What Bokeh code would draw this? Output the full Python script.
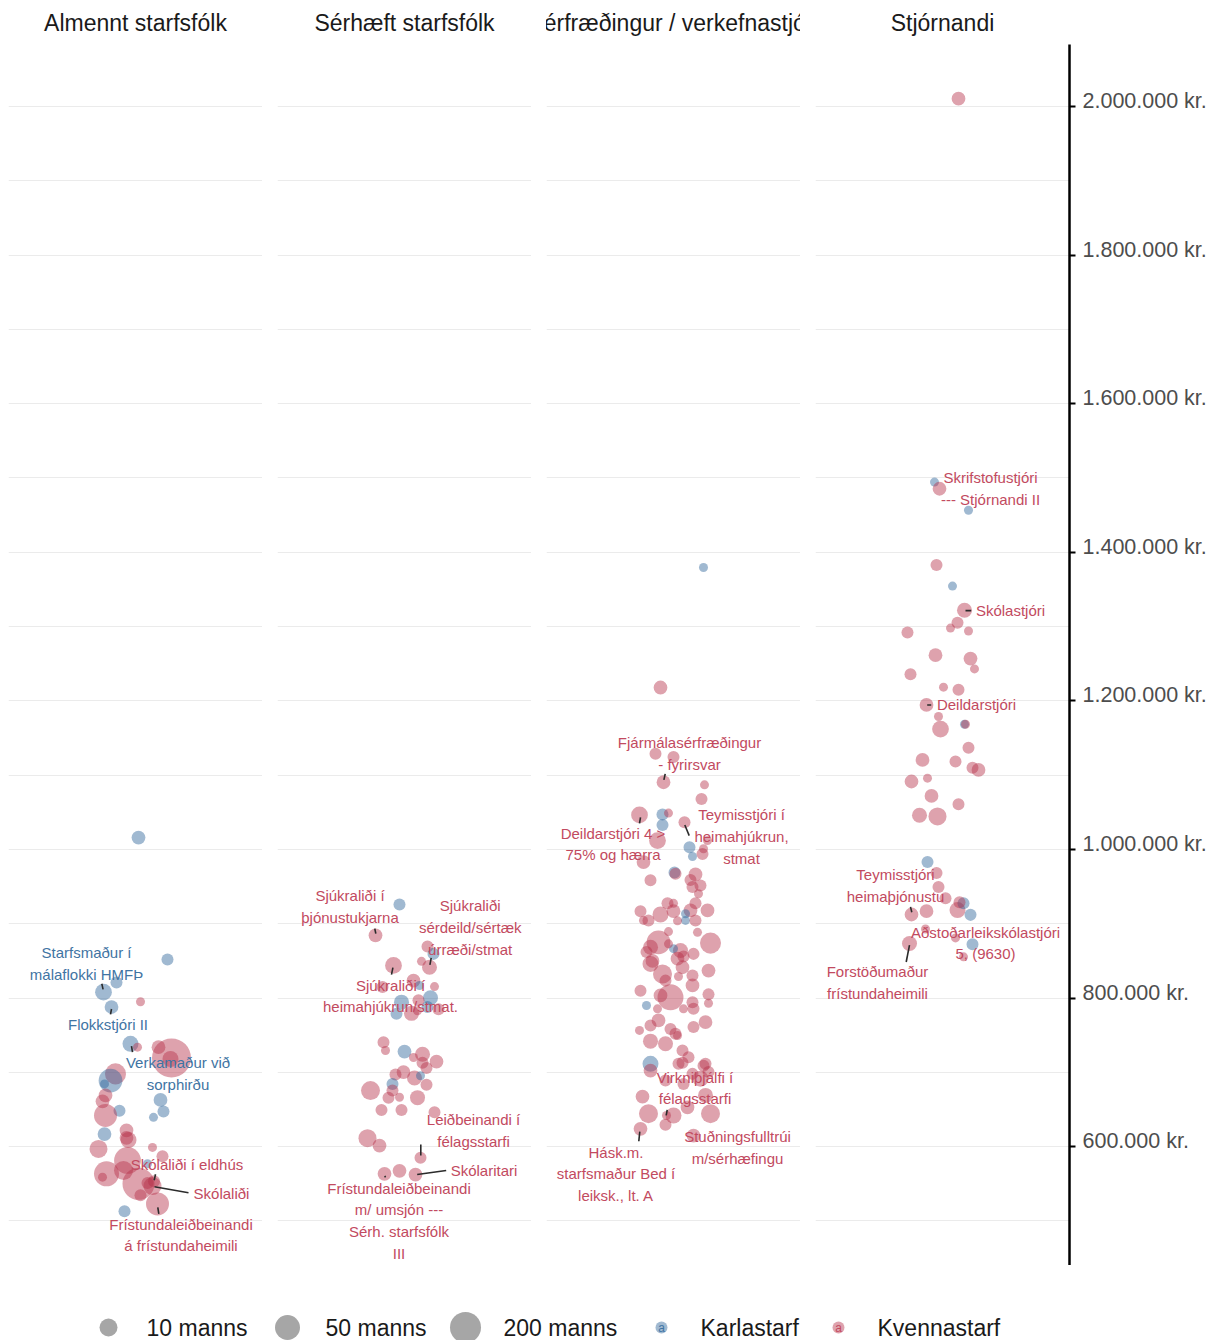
import numpy as np
from bokeh.plotting import figure
from bokeh.layouts import row, column
from bokeh.models import ColumnDataSource, FixedTicker, Range1d
from bokeh.embed import file_html
from bokeh.resources import INLINE
from bokeh.core.properties import value

FONT = "Liberation Sans"

# ---------------------------------------------------------------- data
PANEL_TITLES = ["Almennt starfsfólk", "Sérhæft starfsfólk",
                "Sérfræðingur / verkefnastjóri", "Stjórnandi"]

GRID_TICKS = [500000, 600000, 700000, 800000, 900000, 1000000, 1100000, 1200000,
              1300000, 1400000, 1500000, 1600000, 1700000, 1800000, 1900000, 2000000]
AXIS_TICKS = [600000, 800000, 1000000, 1200000, 1400000, 1600000, 1800000, 2000000]
AXIS_LABELS = ["600.000 kr.", "800.000 kr.", "1.000.000 kr.", "1.200.000 kr.",
               "1.400.000 kr.", "1.600.000 kr.", "1.800.000 kr.", "2.000.000 kr."]

# group: "K" = Karlastarf, "Kv" = Kvennastarf
p1_salary = [1016000, 852000, 821000, 808000, 795000, 788000, 738500, 734000, 734000, 719500,
             718000, 698000, 689000, 684500, 663000, 647500, 639500, 648500, 669000, 661000,
             642000, 617000, 622000, 609000, 612000, 597000, 599000, 587000, 581500, 568000,
             563500, 559000, 550000, 547000, 553500, 523000, 534500, 513000, 577000, 551000]
p1_jitter = [0.03, 0.32, -0.19, -0.32, 0.05, -0.24, -0.05, 0.02, 0.23, 0.36,
             0.35, -0.20, -0.25, -0.31, 0.25, 0.28, 0.18, -0.16, -0.30, -0.33,
             -0.30, -0.31, -0.09, -0.07, -0.09, -0.37, 0.17, 0.27, -0.08, -0.12,
             -0.29, -0.33, 0.03, 0.17, 0.185, 0.22, 0.05, -0.11, 0.12, 0.12]
p1_count = [3, 2, 2, 6, 1, 3, 5, 1, 3, 1000,
            5, 16, 30, 1, 3, 2, 1, 2, 3, 3,
            25, 3, 3, 5, 3, 8, 1, 2, 60, 10,
            40, 1, 200, 8, 2, 25, 2, 2, 1, 2]
p1_group = ["K", "K", "K", "K", "Kv", "K", "K", "Kv", "Kv", "Kv",
            "Kv", "Kv", "K", "K", "K", "K", "K", "K", "Kv", "Kv",
            "Kv", "K", "Kv", "Kv", "Kv", "Kv", "Kv", "Kv", "Kv", "Kv",
            "Kv", "Kv", "Kv", "Kv", "Kv", "Kv", "Kv", "K", "K", "Kv"]

p2_salary = [926000, 884500, 869500, 859500, 841500, 849500, 844000, 823500, 817000, 815500,
             815000, 794500, 800500, 797000, 779500, 783000, 779000, 788000, 785000, 740500,
             729500, 728000, 724500, 720000, 714500, 713000, 706000, 700500, 697000, 692500,
             695500, 684500, 683500, 675500, 675500, 666000, 666500, 666000, 649500, 649500,
             646500, 611500, 601500, 585000, 563500, 567500, 562500]
p2_jitter = [-0.05, -0.29, 0.23, 0.29, 0.25, 0.17, -0.11, 0.09, 0.15, 0.30,
             -0.22, -0.03, 0.26, 0.14, 0.07, 0.13, -0.08, 0.23, 0.34, -0.21,
             -0.19, 0.00, 0.18, 0.09, 0.32, 0.18, 0.22, -0.01, -0.09, 0.10,
             0.16, -0.12, 0.22, -0.34, -0.12, -0.16, -0.05, 0.13, -0.23, -0.03,
             0.30, -0.37, -0.25, 0.16, -0.20, -0.05, 0.11]
p2_count = [2, 3, 2, 2, 4, 1, 6, 3, 1, 1,
            2, 4, 4, 2, 4, 1, 2, 2, 2, 2,
            1, 3, 4, 1, 3, 2, 2, 3, 2, 4,
            1, 2, 2, 10, 2, 2, 1, 4, 2, 2,
            2, 8, 3, 2, 3, 3, 3]
p2_group = ["K", "Kv", "Kv", "K", "Kv", "Kv", "Kv", "Kv", "K", "Kv",
            "Kv", "K", "K", "Kv", "Kv", "Kv", "K", "K", "Kv", "Kv",
            "Kv", "K", "Kv", "Kv", "Kv", "Kv", "Kv", "Kv", "Kv", "Kv",
            "K", "K", "Kv", "Kv", "Kv", "Kv", "Kv", "Kv", "Kv", "Kv",
            "Kv", "Kv", "Kv", "Kv", "Kv", "Kv", "Kv"]

p3_salary = [1379500, 1218000, 1129000, 1124500, 1090500, 1087000, 1068000, 1046500, 1047000, 1049000,
             1033000, 1036500, 1012000, 1003000, 1012000, 1001000, 994000, 990500, 983000, 969000,
             967500, 966500, 958500, 959000, 951500, 949500, 940500, 927500, 927500, 927500,
             917000, 912500, 917000, 918000, 918000, 913500, 904500, 904500, 904500, 904500,
             889500, 888500, 875000, 874000, 868500, 864000, 866500, 873000, 862000, 859500,
             846000, 853000, 837000, 832500, 841500, 830500, 829000, 823500, 810000, 801000,
             817000, 803500, 805000, 794500, 793000, 790000, 785500, 785500, 785500, 770000,
             767500, 763000, 758500, 761000, 752000, 756500, 742000, 738500, 749500, 729500,
             720500, 711500, 711500, 711500, 702500, 691500, 700500, 689000, 698000, 667500,
             669000, 684500, 653000, 644500, 644500, 642000, 642000, 629500, 624000, 615000,
             713000, 709000, 904000, 856000, 850000]
p3_jitter = [0.30, -0.13, -0.18, 0.00, -0.10, 0.31, 0.28, -0.34, -0.11, -0.05,
             -0.11, 0.11, -0.16, 0.16, 0.34, 0.30, 0.29, 0.19, -0.30, 0.01,
             0.02, 0.22, -0.23, 0.17, 0.27, 0.19, 0.25, -0.06, 0.00, 0.22,
             -0.33, -0.13, 0.00, 0.17, 0.34, 0.12, 0.12, 0.22, -0.30, -0.25,
             -0.05, 0.24, -0.15, 0.37, -0.23, 0.07, 0.00, -0.05, -0.27, 0.20,
             -0.23, 0.04, 0.35, -0.11, 0.09, 0.19, 0.05, -0.08, -0.33, -0.03,
             0.19, -0.13, 0.35, 0.19, 0.35, -0.27, -0.16, 0.10, 0.20, -0.15,
             0.32, -0.23, -0.03, 0.20, 0.02, -0.34, -0.23, -0.08, 0.04, 0.09,
             0.15, 0.05, 0.32, -0.23, -0.23, 0.27, 0.35, -0.08, 0.19, -0.31,
             0.32, 0.10, 0.14, -0.25, 0.37, 0.00, -0.07, -0.08, -0.33, 0.20,
             0.09, 0.30, 0.04, 0.10, -0.21]
p3_count = [1, 3, 2, 2, 3, 1, 2, 6, 2, 1,
            2, 2, 6, 2, 1, 1, 2, 1, 3, 2,
            2, 3, 2, 2, 2, 2, 1, 2, 1, 2,
            2, 5, 3, 3, 3, 1, 1, 2, 1, 2,
            1, 1, 30, 16, 4, 4, 1, 1, 2, 2,
            5, 3, 3, 10, 3, 2, 1, 2, 2, 50,
            3, 3, 2, 2, 1, 1, 1, 1, 2, 3,
            3, 2, 2, 2, 2, 1, 4, 4, 1, 2,
            2, 2, 2, 5, 3, 5, 2, 2, 2, 3,
            4, 2, 3, 10, 10, 5, 1, 2, 3, 3,
            2, 2, 1, 2, 3]
p3_group = ["K", "Kv", "Kv", "Kv", "Kv", "Kv", "Kv", "Kv", "K", "Kv",
            "K", "Kv", "Kv", "K", "Kv", "Kv", "Kv", "K", "Kv", "K",
            "Kv", "Kv", "Kv", "Kv", "Kv", "Kv", "Kv", "Kv", "Kv", "Kv",
            "Kv", "Kv", "Kv", "Kv", "Kv", "K", "K", "Kv", "Kv", "Kv",
            "Kv", "Kv", "Kv", "Kv", "Kv", "Kv", "K", "Kv", "Kv", "Kv",
            "Kv", "Kv", "Kv", "Kv", "Kv", "Kv", "Kv", "Kv", "Kv", "Kv",
            "Kv", "Kv", "Kv", "Kv", "Kv", "K", "Kv", "Kv", "Kv", "Kv",
            "Kv", "Kv", "Kv", "Kv", "Kv", "Kv", "Kv", "Kv", "Kv", "Kv",
            "Kv", "Kv", "Kv", "K", "Kv", "Kv", "Kv", "Kv", "Kv", "Kv",
            "Kv", "Kv", "Kv", "Kv", "Kv", "Kv", "Kv", "Kv", "Kv", "Kv",
            "Kv", "Kv", "Kv", "Kv", "Kv"]

p4_salary = [2010500, 1494500, 1485500, 1456500, 1383000, 1354500, 1322000, 1305000, 1298000, 1294000,
             1292000, 1261500, 1257000, 1243000, 1236000, 1218500, 1215000, 1194500, 1179000, 1168500,
             1168500, 1162000, 1137000, 1120500, 1118500, 1110000, 1107000, 1091500, 1096000, 1072000,
             1061000, 1046000, 1044500, 983000, 968500, 949500, 934500, 918500, 927500, 929000,
             912500, 917000, 912000, 893000, 881000, 872500, 873500, 855500]
p4_jitter = [0.16, -0.08, -0.03, 0.26, -0.06, 0.10, 0.22, 0.15, 0.08, 0.26,
             -0.35, -0.07, 0.28, 0.32, -0.32, 0.01, 0.16, -0.16, -0.04, 0.22,
             0.23, -0.02, 0.26, -0.20, 0.13, 0.30, 0.36, -0.31, -0.15, -0.11,
             0.16, -0.23, -0.05, -0.15, -0.06, -0.04, 0.03, 0.15, 0.21, 0.17,
             -0.31, -0.16, 0.28, -0.17, 0.13, 0.30, -0.33, 0.21]
p4_count = [3, 1, 3, 1, 2, 1, 4, 2, 1, 1,
            2, 3, 3, 1, 2, 1, 2, 3, 1, 1,
            1, 6, 2, 3, 2, 2, 3, 3, 1, 3,
            2, 4, 8, 2, 2, 2, 2, 5, 2, 2,
            3, 3, 2, 1, 1, 2, 4, 1]
p4_group = ["Kv", "K", "Kv", "K", "Kv", "K", "Kv", "Kv", "Kv", "Kv",
            "Kv", "Kv", "Kv", "Kv", "Kv", "Kv", "Kv", "Kv", "Kv", "K",
            "Kv", "Kv", "Kv", "Kv", "Kv", "Kv", "Kv", "Kv", "Kv", "Kv",
            "Kv", "Kv", "Kv", "K", "Kv", "Kv", "Kv", "Kv", "K", "Kv",
            "Kv", "Kv", "K", "Kv", "Kv", "K", "Kv", "Kv"]

PANELS = [
    (p1_salary, p1_jitter, p1_count, p1_group),
    (p2_salary, p2_jitter, p2_count, p2_group),
    (p3_salary, p3_jitter, p3_count, p3_group),
    (p4_salary, p4_jitter, p4_count, p4_group),
]

# labelled jobs: (panel, point index, text, label offset px (dx, dy), leader segment px or None)
ANNOTATIONS = [
    (0, 3, "Starfsmaður í\nmálaflokki HMFÞ", -17, -29, (-1.7, -8.4, -0.4, -2.7)),
    (0, 5, "Flokkstjóri II", -3.5, 17, (0, 2, -1, 7.3)),
    (0, 6, "Verkamaður við\nsorphirðu", 47.5, 30, (1, 2.4, 2, 8.4)),
    (0, 34, "Skólaliði í eldhús", 33, -17, (1.5, -7, 0.2, -1)),
    (0, 33, "Skólaliði", 69, 7, (2, 0.7, 36, 6.7)),
    (0, 35, "Frístundaleiðbeinandi\ná frístundaheimili", 23.5, 31, (0.3, 3.4, 1.3, 10)),
    (1, 1, "Sjúkraliði í\nþjónustukjarna", -25.5, -29, (-0.7, -6.7, 0.3, -1.7)),
    (1, 4, "Sjúkraliði\nsérdeild/sértæk\núrræði/stmat", 40.7, -40, (1.7, -9.4, 0.4, -2.4)),
    (1, 6, "Sjúkraliði í\nheimahjúkrun/stmat.", -3, 30.5, (-0.6, 2.3, -2, 9.3)),
    (1, 43, "Leiðbeinandi í\nfélagsstarfi", 53, -27, (0.3, -13.3, 0.3, -2.3)),
    (1, 46, "Skólaritari", 68.5, -4, (1.7, 0, 30.7, -4)),
    (1, 44, "Frístundaleiðbeinandi\nm/ umsjón ---\nSérh. starfsfólk\nIII", 14.5, 47, (0.3, 2, 1, 3.5)),
    (2, 4, "Fjármálasérfræðingur\n- fyrirsvar", 26, -29, (1.7, -8.4, 0.4, -2.4)),
    (2, 7, "Deildarstjóri 4 >\n75% og hærra", -26.5, 29, (1, 2.4, 0, 8.4)),
    (2, 11, "Teymisstjóri í\nheimahjúkrun,\nstmat", 57, 14.3, (0.3, 2.6, 4.7, 13.3)),
    (2, 96, "Virkniþjálfi í\nfélagsstarfi", 28.5, -27.5, (0.7, -5.7, -0.3, 0)),
    (2, 98, "Hásk.m.\nstarfsmaður Bed í\nleiksk., lt. A", -24.5, 45, (-0.7, 2.7, -1.7, 12.4)),
    (2, 99, "Stuðningsfulltrúi\nm/sérhæfingu", 44, 12, None),
    (3, 2, "Skrifstofustjóri\n--- Stjórnandi II", 51, 0, None),
    (3, 6, "Skólastjóri", 46, 0, (1, 0.4, 6.7, 0.4)),
    (3, 17, "Deildarstjóri", 50, 0, (0.7, 0, 4.7, 0)),
    (3, 40, "Teymisstjóri\nheimaþjónustu", -16, -29, (-1, -7.6, 0.3, -2.2)),
    (3, 44, "Aðstoðarleikskólastjóri\n5, (9630)", 30, 5, None),
    (3, 46, "Forstöðumaður\nfrístundaheimili", -32, 39, (0, 1.7, -3.3, 18.5)),
]

LEGEND_COUNTS = [10, 50, 200]
LEGEND_COUNT_LABELS = ["10 manns", "50 manns", "200 manns"]
LEGEND_GROUPS = ["K", "Kv"]
LEGEND_GROUP_LABELS = ["Karlastarf", "Kvennastarf"]

# ---------------------------------------------------------------- styling
Y_MIN, Y_MAX = 440100, 2083400
X_HALF = 1.27
FRAME_W, FRAME_H = 254, 1221
PX_X = 2 * X_HALF / FRAME_W
PX_Y = (Y_MAX - Y_MIN) / FRAME_H

POINT_COLOR = {"K": "#2c6398", "Kv": "#b5304a"}
POINT_ALPHA = 0.45
TEXT_COLOR = {"K": "#3f74a3", "Kv": "#c24a60"}
GRID_COLOR = "#ebebeb"


def bubble_size(n):
    return 9 + 10 * np.log10(np.asarray(n, dtype=float))


def make_panel(i):
    salary, jitter, count, group = PANELS[i]
    last = i == len(PANELS) - 1
    p = figure(output_backend="svg", toolbar_location=None,
               frame_width=FRAME_W, frame_height=FRAME_H,
               x_range=Range1d(-X_HALF, X_HALF), y_range=Range1d(Y_MIN, Y_MAX),
               min_border_left=0, min_border_right=0, min_border_top=44, min_border_bottom=0,
               x_axis_location=None, y_axis_location="right" if last else None,
               title=PANEL_TITLES[i], outline_line_color=None,
               background_fill_color="white", border_fill_color="white")
    p.title.align = "center"
    p.title.vertical_align = "top"
    p.title.standoff = 14
    p.title.text_font = FONT
    p.title.text_font_size = "23px"
    p.title.text_font_style = "normal"
    p.title.text_color = "#1a1a1a"

    p.xgrid.visible = False
    p.ygrid.axis = None
    p.ygrid.ticker = FixedTicker(ticks=GRID_TICKS)
    p.ygrid.grid_line_color = GRID_COLOR
    p.ygrid.grid_line_width = 1

    if last:
        ax = p.yaxis[0]
        ax.ticker = FixedTicker(ticks=AXIS_TICKS)
        # trailing empty line lifts each label slightly above its tick, as in the original
        ax.major_label_overrides = {t: lab + "\n" for t, lab in zip(AXIS_TICKS, AXIS_LABELS)}
        ax.major_label_text_line_height = 0.45
        ax.axis_line_color = "black"
        ax.axis_line_width = 2.5
        ax.major_tick_in = 0
        ax.major_tick_out = 6
        ax.major_tick_line_width = 2
        ax.major_tick_line_color = "black"
        ax.minor_tick_out = 0
        ax.minor_tick_in = 0
        ax.major_label_standoff = 7
        ax.major_label_text_font = FONT
        ax.major_label_text_font_size = "21.5px"
        ax.major_label_text_color = "#4d4d4d"

    src = ColumnDataSource(dict(
        x=jitter, y=salary, size=bubble_size(count),
        color=[POINT_COLOR[g] for g in group]))
    p.scatter("x", "y", size="size", source=src, fill_color="color",
              fill_alpha=POINT_ALPHA, line_color=None)

    lx, ly, lt, lc = [], [], [], []
    sx0, sy0, sx1, sy1 = [], [], [], []
    for (pi, idx, text, dx, dy, seg) in ANNOTATIONS:
        if pi != i:
            continue
        px, py = jitter[idx], salary[idx]
        lx.append(px + dx * PX_X)
        ly.append(py - dy * PX_Y)
        lt.append(text)
        lc.append(TEXT_COLOR[group[idx]])
        if seg is not None:
            sx0.append(px + seg[0] * PX_X)
            sy0.append(py - seg[1] * PX_Y)
            sx1.append(px + seg[2] * PX_X)
            sy1.append(py - seg[3] * PX_Y)
    if sx0:
        p.segment(sx0, sy0, sx1, sy1, line_color="#2b2b2b", line_width=1.6)
    p.text(lx, ly, text=lt, text_color=lc, text_font=value(FONT), text_font_size="15px",
           text_align="center", text_baseline="middle", text_line_height=1.28)
    return p


panels = [make_panel(i) for i in range(len(PANELS))]
top = row(*panels, spacing=15)

# ---------------------------------------------------------------- legend
LEG_W, LEG_H = 1203, 75
leg = figure(output_backend="svg", toolbar_location=None, width=LEG_W, height=LEG_H,
             x_range=Range1d(0, LEG_W), y_range=Range1d(0, LEG_H),
             min_border=0, x_axis_location=None, y_axis_location=None,
             outline_line_color=None, background_fill_color="white", border_fill_color="white")
leg.xgrid.visible = False
leg.ygrid.visible = False
LEG_Y = 13
key_x = [100, 279, 457]
leg.scatter(key_x, [LEG_Y] * 3, size=bubble_size(LEGEND_COUNTS) - 1, fill_color="#a6a6a6",
            line_color=None)
leg.text([x + 38 for x in key_x], [LEG_Y] * 3, text=LEGEND_COUNT_LABELS,
         text_font=value(FONT), text_font_size="23px", text_color="#1a1a1a",
         text_baseline="middle", text_align="left")
gkey_x = [653, 830]
leg.scatter(gkey_x, [LEG_Y] * 2, size=12, fill_color=[POINT_COLOR[g] for g in LEGEND_GROUPS],
            fill_alpha=POINT_ALPHA, line_color=None)
leg.text(gkey_x, [LEG_Y] * 2, text=["a", "a"], text_font=value(FONT), text_font_size="12px",
         text_color=[TEXT_COLOR[g] for g in LEGEND_GROUPS], text_align="center",
         text_baseline="middle")
leg.text([x + 39 for x in gkey_x], [LEG_Y] * 2, text=LEGEND_GROUP_LABELS,
         text_font=value(FONT), text_font_size="23px", text_color="#1a1a1a",
         text_baseline="middle", text_align="left")

layout = column(top, leg, spacing=0, margin=(0, 0, 0, 8))
open("out.html", "w").write(file_html(layout, INLINE))
